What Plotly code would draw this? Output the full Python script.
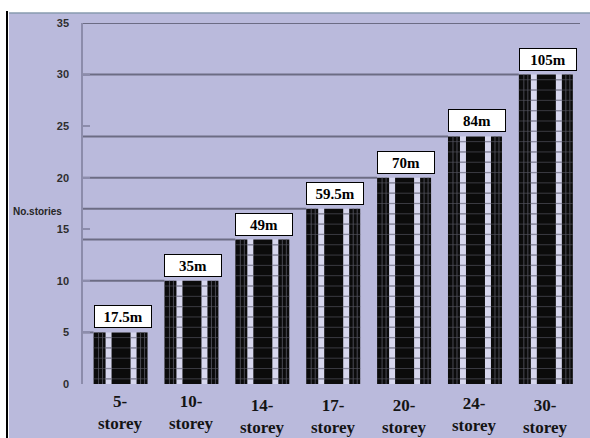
import plotly.graph_objects as go

# ---- data -------------------------------------------------------------
categories = ["5-storey", "10-storey", "14-storey", "17-storey",
              "20-storey", "24-storey", "30-storey"]
storeys = [5, 10, 14, 17, 20, 24, 30]
height_labels = ["17.5m", "35m", "49m", "59.5m", "70m", "84m", "105m"]
y_ticks = [0, 5, 10, 15, 20, 25, 30, 35]

# ---- styling ----------------------------------------------------------
W, H = 590, 438
M_L, M_R, M_T, M_B = 83, 8, 23, 54
X_RANGE = [-0.53, 6.51]
PX = (W - M_L - M_R) / (X_RANGE[1] - X_RANGE[0])   # pixels per category unit
PY = (H - M_T - M_B)                               # plot height in px

BG = "#babadc"
GAP = "#d7d7ee"
GRID = "#6c6c84"
AXIS = "#8c8cab"
SERIF = "Liberation Serif"
SANS = "Liberation Sans"

# building facade geometry (pixels, relative to bar centre)
HALF = 27
STRIPS = [(-27, 12), (-9, 19), (16, 11)]           # (offset, width) of the dark strips
GAPS = [(-15, 6), (10, 6)]                          # light window columns between strips
MULLIONS = [-22, -18, 20, 24]                      # thin lines inside the side strips
label_drop = [0, 0, 4, 4, 4, 2, 4]                 # vertical jitter of category labels

xs = list(range(len(categories)))

fig = go.Figure()

# light facade background behind the dark strips
fig.add_trace(go.Bar(
    x=xs, y=storeys, offset=-HALF / PX, width=2 * HALF / PX,
    marker=dict(color=GAP, line=dict(width=0)), hoverinfo="skip",
))

# dark strips of each building
for off, wd in STRIPS:
    fig.add_trace(go.Bar(
        x=xs, y=storeys, offset=off / PX, width=wd / PX,
        marker=dict(color="#0b0b0b", line=dict(width=0)), hoverinfo="skip",
    ))

# thin vertical mullions in the side strips
mx, my = [], []
for x, h in zip(xs, storeys):
    for m in MULLIONS:
        mx += [x + m / PX, x + m / PX, None]
        my += [0, h, None]
fig.add_trace(go.Scatter(x=mx, y=my, mode="lines",
                         line=dict(color="rgba(85,85,95,0.85)", width=1),
                         hoverinfo="skip"))

# one floor line per storey: faint across the dark strips ...
fx, fy = [], []
for x, h in zip(xs, storeys):
    for k in range(h):
        fx += [x - HALF / PX, x + HALF / PX, None]
        fy += [k + 0.5, k + 0.5, None]
fig.add_trace(go.Scatter(x=fx, y=fy, mode="lines",
                         line=dict(color="rgba(85,85,95,0.65)", width=1),
                         hoverinfo="skip"))

# ... and a clear rung across the light window columns
rx, ry = [], []
for x, h in zip(xs, storeys):
    for k in range(h):
        for off, wd in GAPS:
            rx += [x + off / PX, x + (off + wd) / PX, None]
            ry += [k + 0.5, k + 0.5, None]
fig.add_trace(go.Scatter(x=rx, y=ry, mode="lines",
                         line=dict(color="rgba(140,140,162,0.95)", width=1.3),
                         hoverinfo="skip"))

# reference lines from the axis to the top of each building
lx, ly = [], []
for x, h in zip(xs, storeys):
    lx += [X_RANGE[0], x - HALF / PX, None]
    ly += [h, h, None]
fig.add_trace(go.Scatter(x=lx, y=ly, mode="lines",
                         line=dict(color=GRID, width=2), hoverinfo="skip"))

annotations = []
# height boxes above each building
for x, h, t in zip(xs, storeys, height_labels):
    annotations.append(dict(
        x=x - HALF / PX, y=h, xref="x", yref="y", xanchor="left", yanchor="bottom",
        yshift=4, text=t, showarrow=False, bgcolor="white", bordercolor="black",
        borderwidth=1, borderpad=1, width=54, height=19,
        font=dict(family=SERIF, size=15, color="black", weight="bold"),
    ))
# two-line category labels
for x, c, d in zip(xs, categories, label_drop):
    num, word = c.split("-")
    annotations.append(dict(
        x=x, y=0, xref="x", yref="y", xanchor="center", yanchor="top",
        yshift=-(6 + d), text=f"{num}-<br>{word}", showarrow=False,
        font=dict(family=SERIF, size=17, color="#141414", weight="bold"),
    ))
# axis title
annotations.append(dict(
    x=(11 - M_L) / (W - M_L - M_R), y=16.7, xref="paper", yref="y",
    xanchor="left", yanchor="middle", text="No.stories", showarrow=False,
    font=dict(family=SANS, size=10, color="#262626", weight="bold"),
))

def px_x(p):
    return (p - M_L) / (W - M_L - M_R)

def px_y(p):
    return (H - M_B - p) / PY

shapes = [
    # top boundary of the chart (y = 35)
    dict(type="line", xref="paper", yref="y", x0=0, x1=px_x(580), y0=35, y1=35,
         line=dict(color=GRID, width=2)),
    # white page margin above and to the left of the chart area
    dict(type="rect", xref="paper", yref="paper", x0=px_x(0), x1=px_x(W + 2),
         y0=px_y(12.5), y1=px_y(-2), fillcolor="white", line=dict(width=0)),
    dict(type="rect", xref="paper", yref="paper", x0=px_x(-2), x1=px_x(9),
         y0=px_y(H + 2), y1=px_y(-2), fillcolor="white", line=dict(width=0)),
    # frame lines
    dict(type="line", xref="paper", yref="paper", x0=px_x(7), x1=px_x(7),
         y0=px_y(H + 2), y1=px_y(11), line=dict(color="black", width=2)),
    dict(type="line", xref="paper", yref="paper", x0=px_x(9), x1=px_x(W),
         y0=px_y(13), y1=px_y(13), line=dict(color="#6f8a98", width=1)),
]

fig.update_layout(
    width=W, height=H,
    margin=dict(l=M_L, r=M_R, t=M_T, b=M_B, pad=0),
    paper_bgcolor=BG, plot_bgcolor=BG,
    barmode="overlay", showlegend=False,
    xaxis=dict(range=X_RANGE, showgrid=False, zeroline=False, showline=False,
               showticklabels=False, ticks=""),
    yaxis=dict(range=[0, 35], tickvals=y_ticks, showgrid=False, zeroline=False,
               showline=True, linecolor=AXIS, linewidth=1.5,
               ticks="inside", ticklen=7, tickcolor=AXIS, tickwidth=1.5,
               ticklabelstandoff=10,
               tickfont=dict(family=SANS, size=11, color="#2e2e2e", weight="bold")),
    annotations=annotations,
    shapes=shapes,
)

fig.write_html("out.html")
